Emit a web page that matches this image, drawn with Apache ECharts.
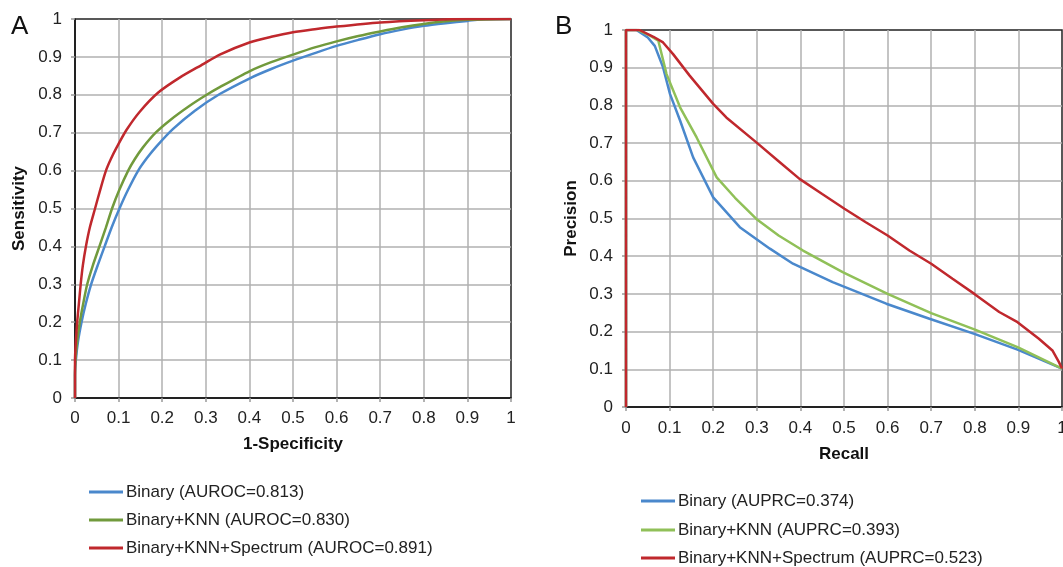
<!DOCTYPE html>
<html><head><meta charset="utf-8">
<script src="https://cdn.jsdelivr.net/npm/echarts@6/dist/echarts.min.js"></script>
<style>html,body{margin:0;padding:0;background:#fff;overflow:hidden}#c{width:1063px;height:567px}</style>
</head><body><div id="c"></div>
<script>
// ---- data ----
const rocNames = ['Binary (AUROC=0.813)', 'Binary+KNN (AUROC=0.830)', 'Binary+KNN+Spectrum (AUROC=0.891)'];
const prNames = ['Binary (AUPRC=0.374)', 'Binary+KNN (AUPRC=0.393)', 'Binary+KNN+Spectrum (AUPRC=0.523)'];
const axisTicks = [0, 0.1, 0.2, 0.3, 0.4, 0.5, 0.6, 0.7, 0.8, 0.9, 1];

const rocBinary = [[0,0],[0,0.06],[0.002,0.1],[0.007,0.15],[0.015,0.2],[0.025,0.25],[0.037,0.3],[0.052,0.35],[0.068,0.4],[0.084,0.45],[0.102,0.5],[0.122,0.55],[0.145,0.6],[0.165,0.633],[0.187,0.664],[0.225,0.71],[0.275,0.758],[0.332,0.802],[0.4,0.843],[0.45,0.868],[0.5,0.89],[0.55,0.91],[0.6,0.929],[0.65,0.945],[0.7,0.96],[0.75,0.972],[0.8,0.982],[0.85,0.989],[0.9,0.995],[0.93,0.999],[1,1]];
const rocKnn = [[0,0],[0,0.06],[0.001,0.1],[0.005,0.15],[0.011,0.2],[0.019,0.25],[0.028,0.3],[0.041,0.35],[0.056,0.4],[0.071,0.45],[0.085,0.5],[0.102,0.55],[0.122,0.6],[0.137,0.63],[0.155,0.66],[0.185,0.7],[0.218,0.733],[0.263,0.771],[0.302,0.8],[0.332,0.82],[0.4,0.862],[0.45,0.886],[0.5,0.906],[0.55,0.925],[0.6,0.941],[0.65,0.955],[0.7,0.967],[0.75,0.978],[0.8,0.987],[0.85,0.994],[0.9,0.998],[1,1]];
const rocSpec = [[0,0],[0,0.1],[0.002,0.15],[0.005,0.2],[0.009,0.25],[0.013,0.3],[0.018,0.35],[0.025,0.4],[0.034,0.45],[0.046,0.5],[0.058,0.55],[0.071,0.6],[0.082,0.63],[0.095,0.66],[0.118,0.707],[0.149,0.756],[0.191,0.806],[0.241,0.846],[0.294,0.881],[0.332,0.906],[0.4,0.938],[0.45,0.953],[0.5,0.965],[0.55,0.973],[0.6,0.98],[0.7,0.991],[0.8,0.997],[0.9,1],[1,1]];

const prBinary = [[0,0],[0,1],[0.024,1],[0.05,0.98],[0.066,0.958],[0.085,0.901],[0.101,0.83],[0.124,0.76],[0.154,0.662],[0.2,0.556],[0.261,0.477],[0.33,0.42],[0.383,0.38],[0.474,0.331],[0.597,0.274],[0.696,0.234],[0.799,0.194],[0.898,0.152],[1,0.102]];
const prKnn = [[0,0],[0,1],[0.028,1],[0.055,0.985],[0.074,0.972],[0.093,0.883],[0.124,0.795],[0.162,0.715],[0.208,0.609],[0.25,0.555],[0.299,0.499],[0.35,0.455],[0.406,0.415],[0.497,0.358],[0.6,0.3],[0.7,0.249],[0.799,0.206],[0.898,0.159],[1,0.102]];
const prSpec = [[0,0],[0,1],[0.031,1],[0.063,0.982],[0.085,0.967],[0.108,0.936],[0.146,0.879],[0.2,0.804],[0.23,0.768],[0.299,0.702],[0.35,0.652],[0.398,0.605],[0.45,0.565],[0.501,0.526],[0.55,0.49],[0.6,0.455],[0.65,0.415],[0.7,0.38],[0.749,0.34],[0.799,0.3],[0.856,0.252],[0.898,0.225],[0.947,0.181],[0.978,0.15],[0.993,0.119],[1,0.102]];

// ---- styling ----
const FONT = 'Liberation Sans, Arial, sans-serif';
const blue = '#4a88cc', greenL = '#719a3c', greenR = '#90c058', red = '#c0282d';

function xAxisCfg(gi, name, gap, margin) {
  return {
    type: 'value', gridIndex: gi, min: 0, max: 1, interval: 0.1,
    name: name, nameLocation: 'middle', nameGap: gap,
    nameTextStyle: {fontFamily: FONT, fontSize: 17, fontWeight: 'bold', color: '#111'},
    axisLine: {show: true, lineStyle: {color: '#111', width: 1.5}},
    axisTick: {show: true, length: 4, lineStyle: {color: '#999', width: 1.5}},
    axisLabel: {fontFamily: FONT, fontSize: 17, color: '#222', margin: margin, hideOverlap: false,
      formatter: v => String(axisTicks[Math.round(v * 10)])},
    splitLine: {show: true, showMinLine: false, showMaxLine: false, lineStyle: {color: '#b0b0b0', width: 1.5}}
  };
}
function yAxisCfg(gi, name, gap) {
  return {
    type: 'value', gridIndex: gi, min: 0, max: 1, interval: 0.1,
    name: name, nameLocation: 'middle', nameGap: gap, nameRotate: 90,
    nameTextStyle: {fontFamily: FONT, fontSize: 17, fontWeight: 'bold', color: '#111'},
    axisLine: {show: true, lineStyle: {color: '#111', width: 1.5}},
    axisTick: {show: true, length: 4, lineStyle: {color: '#999', width: 1.5}},
    axisLabel: {fontFamily: FONT, fontSize: 17, color: '#222', margin: 13,
      formatter: v => String(axisTicks[Math.round(v * 10)])},
    splitLine: {show: true, showMinLine: false, showMaxLine: false, lineStyle: {color: '#b0b0b0', width: 1.5}}
  };
}
function line(name, data, color, gi, smooth) {
  return {
    type: 'line', name: name, data: data, xAxisIndex: gi, yAxisIndex: gi,
    showSymbol: false, symbol: 'none', smooth: smooth,
    lineStyle: {color: color, width: 2.5}, itemStyle: {color: color}, color: color,
    animation: false, z: 3
  };
}
function legendItem(name, left, top) {
  return {
    data: [name], orient: 'vertical', left: left, top: top, padding: 0,
    itemWidth: 34, itemHeight: 3, itemGap: 0, icon: 'rect',
    textStyle: {fontFamily: FONT, fontSize: 17, color: '#222', lineHeight: 20, padding: [0, 0, 0, -2]},
    selectedMode: false
  };
}

const chart = echarts.init(document.getElementById('c'), null, {renderer: 'canvas'});
chart.setOption({
  backgroundColor: '#fff',
  animation: false,
  grid: [
    {left: 75, top: 19, width: 436, height: 379, show: true, borderColor: '#222', borderWidth: 1.5, backgroundColor: 'transparent', containLabel: false, outerBoundsMode: 'none'},
    {left: 626, top: 30, width: 436, height: 377, show: true, borderColor: '#222', borderWidth: 1.5, backgroundColor: 'transparent', containLabel: false, outerBoundsMode: 'none'}
  ],
  xAxis: [xAxisCfg(0, '1-Specificity', 38, 12), xAxisCfg(1, 'Recall', 39, 13)],
  yAxis: [yAxisCfg(0, 'Sensitivity', 47), yAxisCfg(1, 'Precision', 46)],
  legend: [
    legendItem(rocNames[0], 89, 482), legendItem(rocNames[1], 89, 510), legendItem(rocNames[2], 89, 538),
    legendItem(prNames[0], 641, 491), legendItem(prNames[1], 641, 520), legendItem(prNames[2], 641, 548)
  ],
  graphic: [
    {type: 'text', left: 11, top: 14, style: {text: 'A', font: '26px ' + FONT, fill: '#111'}},
    {type: 'text', left: 555, top: 14, style: {text: 'B', font: '26px ' + FONT, fill: '#111'}}
  ],
  series: [
    line(rocNames[0], rocBinary, blue, 0, 0.25),
    line(rocNames[1], rocKnn, greenL, 0, 0.25),
    line(rocNames[2], rocSpec, red, 0, 0.25),
    line(prNames[0], prBinary, blue, 1, false),
    line(prNames[1], prKnn, greenR, 1, false),
    line(prNames[2], prSpec, red, 1, false)
  ]
});
</script></body></html>
